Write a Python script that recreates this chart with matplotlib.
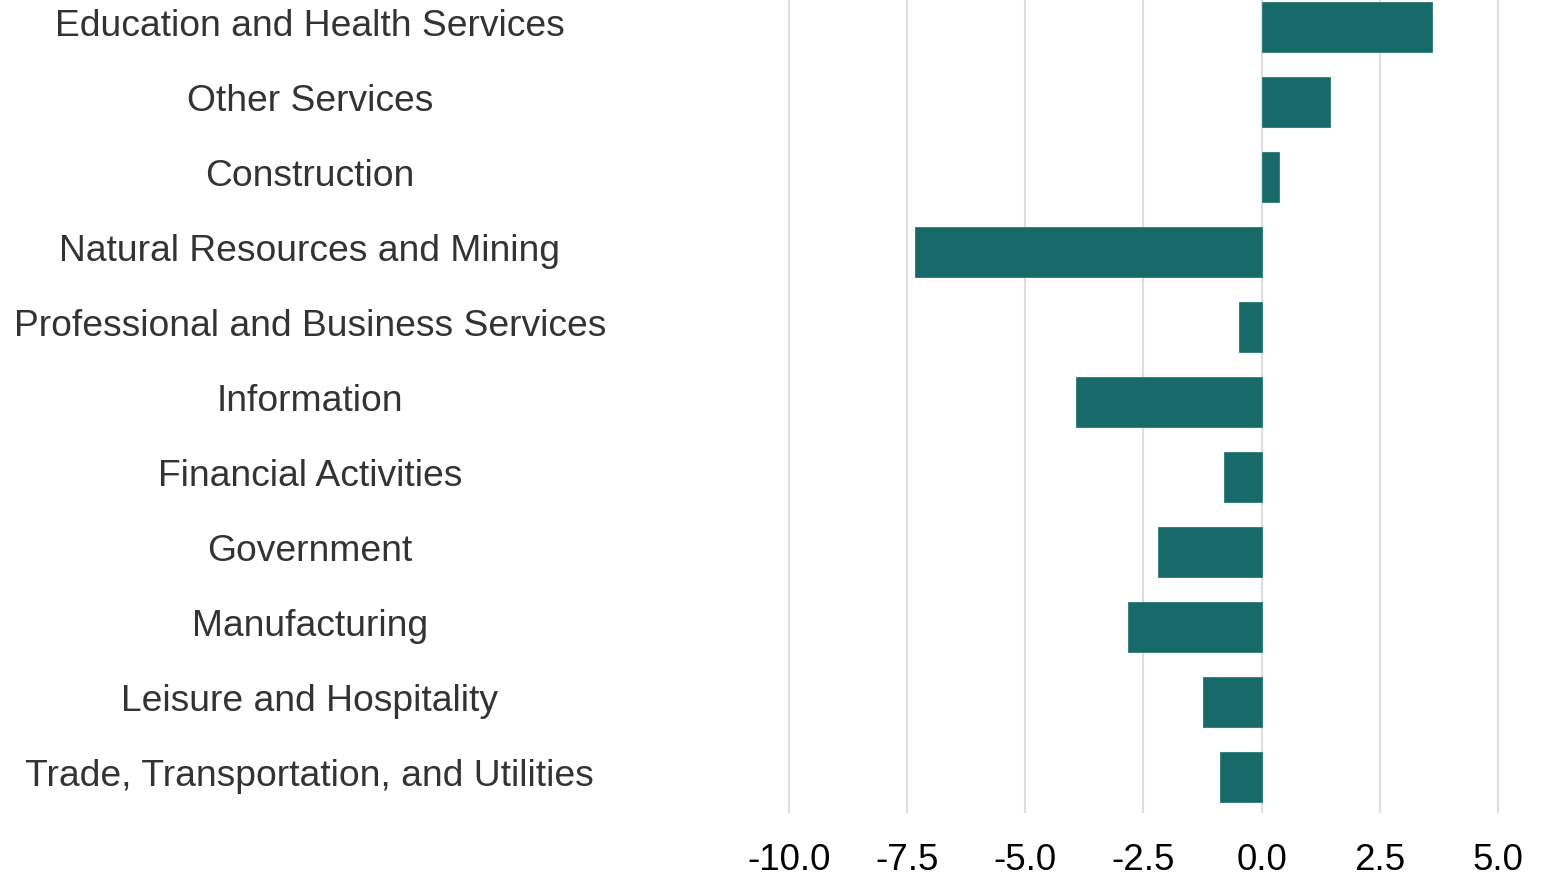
import matplotlib.pyplot as plt

# Employment change by sector (percent)
sectors = [
    "Education and Health Services",
    "Other Services",
    "Construction",
    "Natural Resources and Mining",
    "Professional and Business Services",
    "Information",
    "Financial Activities",
    "Government",
    "Manufacturing",
    "Leisure and Hospitality",
    "Trade, Transportation, and Utilities",
]
change = [3.6, 1.44, 0.37, -7.34, -0.47, -3.93, -0.80, -2.2, -2.83, -1.25, -0.89]
x_ticks = [-10.0, -7.5, -5.0, -2.5, 0.0, 2.5, 5.0]

plt.rcParams["font.family"] = ["Liberation Sans", "DejaVu Sans"]

fig = plt.figure(figsize=(15.5, 8.76), dpi=100)
ax = fig.add_axes([789 / 1550, 1 - 812 / 876, 709 / 1550, 812 / 876])

ypos = list(range(len(sectors)))
ax.barh(ypos, change, height=0.66, color="#17696A", edgecolor="#2a7a7a",
        linewidth=0.6, zorder=3)

ax.set_xlim(-10, 5)
ax.set_ylim(10.47, -0.36)
ax.set_xticks(x_ticks)
ax.set_xticklabels([f"{t:.1f}" for t in x_ticks], fontsize=26.5, color="black")
ax.set_yticks(ypos)
ax.set_yticklabels(sectors, fontsize=26.8, color="#333333")
for lbl in ax.get_yticklabels():
    lbl.set_horizontalalignment("center")
    lbl.set_verticalalignment("center")

ax.tick_params(axis="y", length=0, pad=345)
ax.tick_params(axis="x", length=0, pad=22)
ax.grid(axis="x", color="#dddddd", linewidth=1.5, zorder=0)
for gl in ax.get_xgridlines():
    gl.set_clip_on(False)
ax.set_axisbelow(True)
for s in ax.spines.values():
    s.set_visible(False)

fig.savefig("out.png", dpi=100)
